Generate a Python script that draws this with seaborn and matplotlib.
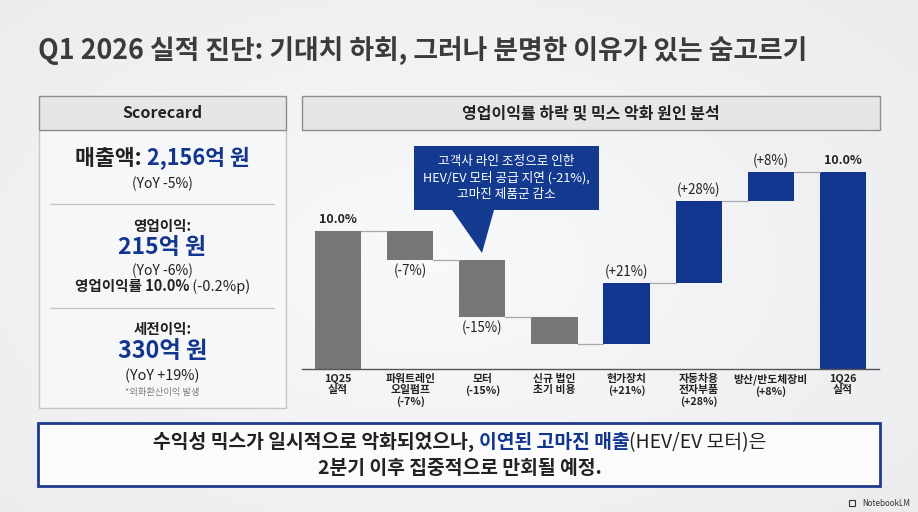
import numpy as np
import pandas as pd
import matplotlib
matplotlib.use("Agg")
import matplotlib.pyplot as plt
import seaborn as sns
from matplotlib.patches import Rectangle, Polygon

# ---------------- data ----------------
categories = ["1Q25\n실적", "파워트레인\n오일펌프\n(-7%)", "모터\n(-15%)", "신규 법인\n초기 비용",
              "현가장치\n(+21%)", "자동차용\n전자부품\n(+28%)", "방산/반도체장비\n(+8%)", "1Q26\n실적"]
step_kind = ["total", "neg", "neg", "neg", "pos", "pos", "pos", "total"]
# visual step heights (first bar = 10.0)
step_values = [10.0, -2.1, -4.1, -2.0, 4.4, 6.0, 2.1, 14.3]
value_labels = ["10.0%", "(-7%)", "(-15%)", "", "(+21%)", "(+28%)", "(+8%)", "10.0%"]

title = "Q1 2026 실적 진단: 기대치 하회, 그러나 분명한 이유가 있는 숨고르기"
scorecard_title = "Scorecard"
chart_title = "영업이익률 하락 및 믹스 악화 원인 분석"
callout_lines = "고객사 라인 조정으로 인한\nHEV/EV 모터 공급 지연 (-21%),\n고마진 제품군 감소"

GRAY = "#767676"
NAVY = "#12368f"
DARK = "#222222"

# ---------------- style ----------------
sns.set_style("white")
plt.rcParams['font.family'] = ['Noto Sans CJK KR', 'DejaVu Sans']

W, H = 918, 512
fig = plt.figure(figsize=(W / 100, H / 100), dpi=100)
fig.patch.set_facecolor("#f2f3f5")

# background axes in pixel coordinates
ax0 = fig.add_axes([0, 0, 1, 1], zorder=0)
ax0.set_xlim(0, W)
ax0.set_ylim(H, 0)
ax0.axis("off")

# soft background gradient
yy, xx = np.mgrid[0:H:4, 0:W:4]
r = np.sqrt(((xx - 430) / 700.0) ** 2 + ((yy - 260) / 420.0) ** 2)
grad = np.clip(1 - 0.06 * r, 0, 1)
ax0.imshow(np.dstack([grad * 0.975, grad * 0.978, grad * 0.985]), extent=[0, W, H, 0],
           aspect="auto", zorder=0)

renderer = fig.canvas.get_renderer()
PT = 100 / 72.0


def rich(parts, cx, cy, size, ha="center", axx=None):
    axx = axx or ax0
    texts = []
    for s, c, w in parts:
        t = axx.text(0, 0, s, fontsize=size, color=c, fontweight=w, va="baseline", ha="left", zorder=5)
        texts.append(t)
    widths = [t.get_window_extent(renderer).width for t in texts]
    total = sum(widths)
    x = cx - total / 2 if ha == "center" else cx
    base = cy + 0.36 * size * PT
    for t, w in zip(texts, widths):
        t.set_position((x, base))
        x += w
    return texts


# title
ax0.text(38, 59, title, fontsize=19.3, fontweight="bold", color="#3b3b3b", ha="left", va="baseline")

# scorecard panel
ax0.add_patch(Rectangle((39, 130), 247, 278, facecolor="#f6f7f8", edgecolor="#c6c6c6", lw=1, zorder=1))
ax0.add_patch(Rectangle((39, 96), 247, 34, facecolor="#e6e6e6", edgecolor="#8e8e8e", lw=1, zorder=2))
ax0.text(162.5, 113, scorecard_title, fontsize=11.5, fontweight="bold", color=DARK, ha="center", va="center", zorder=5)

# chart header
ax0.add_patch(Rectangle((302, 96), 578, 34, facecolor="#e6e6e6", edgecolor="#8e8e8e", lw=1, zorder=2))
ax0.text(591, 113, chart_title, fontsize=11.5, fontweight="bold", color=DARK, ha="center", va="center", zorder=5)

cx = 162.5
rich([("매출액: ", DARK, "bold"), ("2,156억 원", NAVY, "bold")], cx, 157, 15.6)
rich([("(YoY -5%)", DARK, "normal")], cx, 183, 10)
ax0.plot([50, 274], [204, 204], color="#c4c4c4", lw=1, zorder=3)
rich([("영업이익:", DARK, "bold")], cx, 226, 10.5)
rich([("215억 원", NAVY, "bold")], cx, 246, 16.5)
rich([("(YoY -6%)", DARK, "normal")], cx, 270, 10)
rich([("영업이익률 10.0%", DARK, "bold"), (" (-0.2%p)", DARK, "normal")], cx, 286, 10.5)
ax0.plot([50, 274], [308, 308], color="#c4c4c4", lw=1, zorder=3)
rich([("세전이익:", DARK, "bold")], cx, 329, 10.5)
rich([("330억 원", NAVY, "bold")], cx, 350, 16.8)
rich([("(YoY +19%)", DARK, "normal")], cx, 375, 10.4)
rich([("*외화환산이익 발생", "#7e7e7e", "normal")], cx, 392, 6.7)

# bottom banner
ax0.add_patch(Rectangle((38, 423), 842, 63, facecolor="#fbfbfc", edgecolor="#1d3b8c", lw=2, zorder=2))
rich([("수익성 믹스가 일시적으로 악화되었으나, ", DARK, "bold"), ("이연된 고마진 매출", NAVY, "bold"),
      ("(HEV/EV 모터)은", DARK, "normal")], 460, 441, 13.9)
rich([("2분기 이후 집중적으로 만회될 예정.", DARK, "bold")], 460, 467, 13.9)

# watermark
ax0.text(910, 503, "NotebookLM", fontsize=5.8, color="#333333", ha="right", va="center")
ax0.add_patch(Rectangle((849, 500), 6, 6, facecolor="none", edgecolor="#333333", lw=0.8))

# ---------------- waterfall ----------------
bases, heights, ends = [], [], []
cum = 0.0
for v, k in zip(step_values, step_kind):
    if k == "total":
        bases.append(0.0)
        heights.append(v)
        cum = v
    else:
        new = cum + v
        bases.append(min(cum, new))
        heights.append(abs(v))
        cum = new
    ends.append(cum)

colors = [GRAY if (k == "neg" or i == 0) else NAVY for i, k in enumerate(step_kind)]
df = pd.DataFrame({"cat": categories, "height": heights})

ax = fig.add_axes([302 / W, (H - 369) / H, 577 / W, 224 / H], zorder=3)
ax.patch.set_alpha(0)
sns.barplot(data=df, x="cat", y="height", hue="cat", order=categories, hue_order=categories,
            palette=colors, legend=False, dodge=False, width=0.64, saturation=1,
            edgecolor="none", linewidth=0, ax=ax)
for p, b in zip(ax.patches, bases):
    p.set_y(b)

ax.set_xlim(-0.5, 7.5)
ax.set_ylim(0, 224 / 13.8)
ax.set_xlabel("")
ax.set_ylabel("")
ax.set_yticks([])
for s in ["top", "right", "left"]:
    ax.spines[s].set_visible(False)
ax.spines["bottom"].set_color("#555555")
ax.spines["bottom"].set_linewidth(1)
ax.tick_params(axis="x", length=0, pad=3.5, labelsize=7.8, labelcolor=DARK)
for lab in ax.get_xticklabels():
    lab.set_linespacing(1.15)
    lab.set_fontweight("bold")

# connectors
for i in range(len(categories) - 1):
    ax.plot([i + 0.32, i + 1 - 0.32], [ends[i], ends[i]], color="#a8a8a8", lw=0.9, zorder=1)

# value labels
for i, (lab, k) in enumerate(zip(value_labels, step_kind)):
    if not lab:
        continue
    if k == "neg":
        y, off = bases[i], -8
    else:
        y, off = bases[i] + heights[i], 8
    ax.annotate(lab, (i, y), xytext=(0, off), textcoords="offset points", ha="center", va="center",
                fontsize=9.0 if k == "total" else 9.6, color=DARK,
                fontweight="bold" if k == "total" else "normal")

# overlay axes for callout
ax1 = fig.add_axes([0, 0, 1, 1], zorder=6)
ax1.set_xlim(0, W)
ax1.set_ylim(H, 0)
ax1.axis("off")
ax1.patch.set_alpha(0)
ax1.add_patch(Polygon([(414, 146), (599, 146), (599, 210), (494, 210), (482, 253), (452, 210), (414, 210)],
                      closed=True, facecolor="#143a8f", edgecolor="none", zorder=6))
ax1.text(506.5, 178, callout_lines, fontsize=9.1, color="white", ha="center", va="center",
         linespacing=1.3, zorder=7)

fig.savefig("out.png", dpi=100, facecolor=fig.get_facecolor())
